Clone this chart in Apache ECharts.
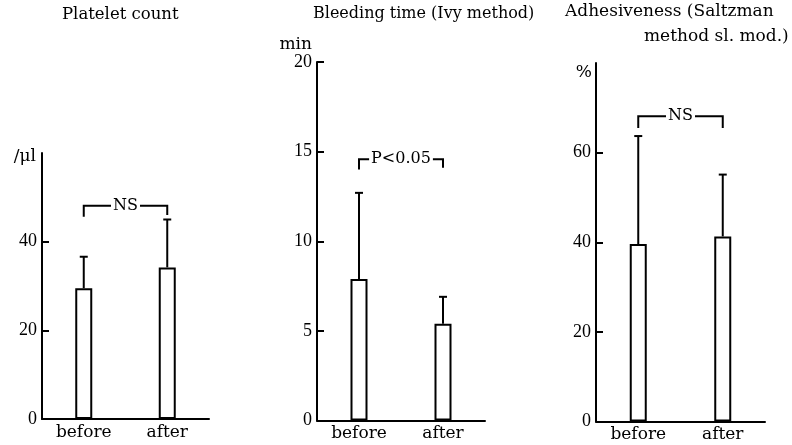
<!DOCTYPE html>
<html><head><meta charset="utf-8">
<script src="https://cdn.jsdelivr.net/npm/echarts@6/dist/echarts.min.js"></script>
<style>html,body{margin:0;padding:0;background:#fff}#c{width:792px;height:445px}</style>
</head><body><div id="c"></div>
<script>
// ---- data ----
const categories = ['before', 'after'];
const plateletMean = [29.5, 34.2];
const plateletUpper = [36.6, 45.0];
const bleedingMean = [7.9, 5.4];
const bleedingUpper = [12.7, 6.9];
const adhesMean = [39.6, 41.3];
const adhesUpper = [63.7, 55.1];
const plateletTicks = [0, 20, 40];
const bleedingTicks = [0, 5, 10, 15, 20];
const adhesTicks = [0, 20, 40, 60];
// bracket: [startIdx, endIdx, level, leftDrop, rightDrop]
const plateletBracket = [[0, 1, 48.1, 45.6, 46.0]];
const plateletBracketText = ['NS'];
const bleedingBracket = [[0, 1, 14.57, 14.0, 14.1]];
const bleedingBracketText = ['P<0.05'];
const adhesBracket = [[0, 1, 68.1, 65.5, 65.5]];
const adhesBracketText = ['NS'];
const titles = ['Platelet count', 'Bleeding time (Ivy method)', 'Adhesiveness (Saltzman', 'method sl. mod.)'];
const unitNames = ['/\u03bcl', 'min', '%'];

// ---- styling ----
const FONT = '"DejaVu Serif", "Liberation Serif", serif';
const NUMFONT = '"Liberation Serif", serif';
const black = '#000';

function errRender(params, api) {
  const x = api.value(0);
  const p0 = api.coord([x, api.value(1)]);
  const p1 = api.coord([x, api.value(2)]);
  return { type: 'group', children: [
    { type: 'line', shape: { x1: p0[0], y1: p0[1], x2: p1[0], y2: p1[1] }, style: { stroke: black, lineWidth: 2 } },
    { type: 'line', shape: { x1: p1[0] - 4, y1: p1[1], x2: p1[0] + 4, y2: p1[1] }, style: { stroke: black, lineWidth: 2 } }
  ]};
}
function bracketRender(texts) {
  return function (params, api) {
    const a = api.coord([api.value(0), api.value(2)]);
    const b = api.coord([api.value(1), api.value(2)]);
    const dl = api.coord([api.value(0), api.value(3)]);
    const dr = api.coord([api.value(1), api.value(4)]);
    return { type: 'group', children: [
      { type: 'polyline', shape: { points: [dl, a, b, dr] }, style: { stroke: black, fill: null, lineWidth: 2 } },
      { type: 'text', x: (a[0] + b[0]) / 2, y: a[1], z2: 10,
        style: { text: texts[params.dataIndex], fill: black, font: '16px ' + FONT,
          align: 'center', verticalAlign: 'middle', backgroundColor: '#fff', padding: [0, 2] } }
    ]};
  };
}

const grids = [
  { left: 42, top: 153, width: 167, height: 266 },
  { left: 317, top: 62, width: 168, height: 358.5 },
  { left: 596, top: 63, width: 169, height: 358.5 }
];
const yDefs = [
  { max: 60, interval: 20, ticks: plateletTicks, nameGap: -4, pad: 6 },
  { max: 20, interval: 5, ticks: bleedingTicks, nameGap: 17, pad: 5 },
  { max: 80, interval: 20, ticks: adhesTicks, nameGap: -10, pad: 4 }
];
const titleStyle = (size) => ({ fontFamily: FONT, fontSize: size, fontWeight: 'normal', color: black });

const option = {
  animation: false,
  backgroundColor: '#fff',
  title: [
    { text: titles[0], left: 62, top: 6, padding: 0, textStyle: titleStyle(16.5) },
    { text: titles[1], left: 313, top: 6, padding: 0, textStyle: titleStyle(16) },
    { text: titles[2], left: 565, top: 3, padding: 0, textStyle: titleStyle(17) },
    { text: titles[3], left: 644, top: 28, padding: 0, textStyle: titleStyle(17) }
  ],
  grid: grids,
  xAxis: grids.map((g, i) => ({
    type: 'category', gridIndex: i, data: categories,
    axisLine: { lineStyle: { color: black, width: 2 } },
    axisTick: { show: false },
    axisLabel: { color: black, fontFamily: FONT, fontSize: 17, margin: 5 }
  })),
  yAxis: yDefs.map((d, i) => ({
    type: 'value', gridIndex: i, min: 0, max: d.max, interval: d.interval,
    name: unitNames[i], nameLocation: 'end', nameGap: d.nameGap,
    nameTextStyle: { color: black, fontFamily: FONT, fontSize: 17, align: 'right', verticalAlign: 'middle', padding: [0, d.pad, 0, 0] },
    splitLine: { show: false },
    axisLine: { show: true, lineStyle: { color: black, width: 2 } },
    axisTick: { show: true, inside: true, length: 7, customValues: d.ticks, lineStyle: { color: black, width: 2 } },
    axisLabel: { color: black, fontFamily: NUMFONT, fontSize: 18, margin: 5, customValues: d.ticks }
  })),
  series: [
    [plateletMean, plateletUpper, plateletBracket, plateletBracketText],
    [bleedingMean, bleedingUpper, bleedingBracket, bleedingBracketText],
    [adhesMean, adhesUpper, adhesBracket, adhesBracketText]
  ].flatMap(([mean, upper, br, brText], i) => [
    { type: 'bar', xAxisIndex: i, yAxisIndex: i, data: mean, barWidth: 17,
      itemStyle: { color: '#fff', borderColor: black, borderWidth: 2 } },
    { type: 'custom', xAxisIndex: i, yAxisIndex: i, renderItem: errRender, z: 5,
      encode: { x: 0, y: [1, 2] }, data: categories.map((c, k) => [k, mean[k], upper[k]]) },
    { type: 'custom', xAxisIndex: i, yAxisIndex: i, renderItem: bracketRender(brText), z: 6,
      encode: { x: [0, 1], y: [2, 3, 4] }, data: br }
  ])
};
echarts.init(document.getElementById('c'), null, { renderer: 'canvas' }).setOption(option);
</script></body></html>
